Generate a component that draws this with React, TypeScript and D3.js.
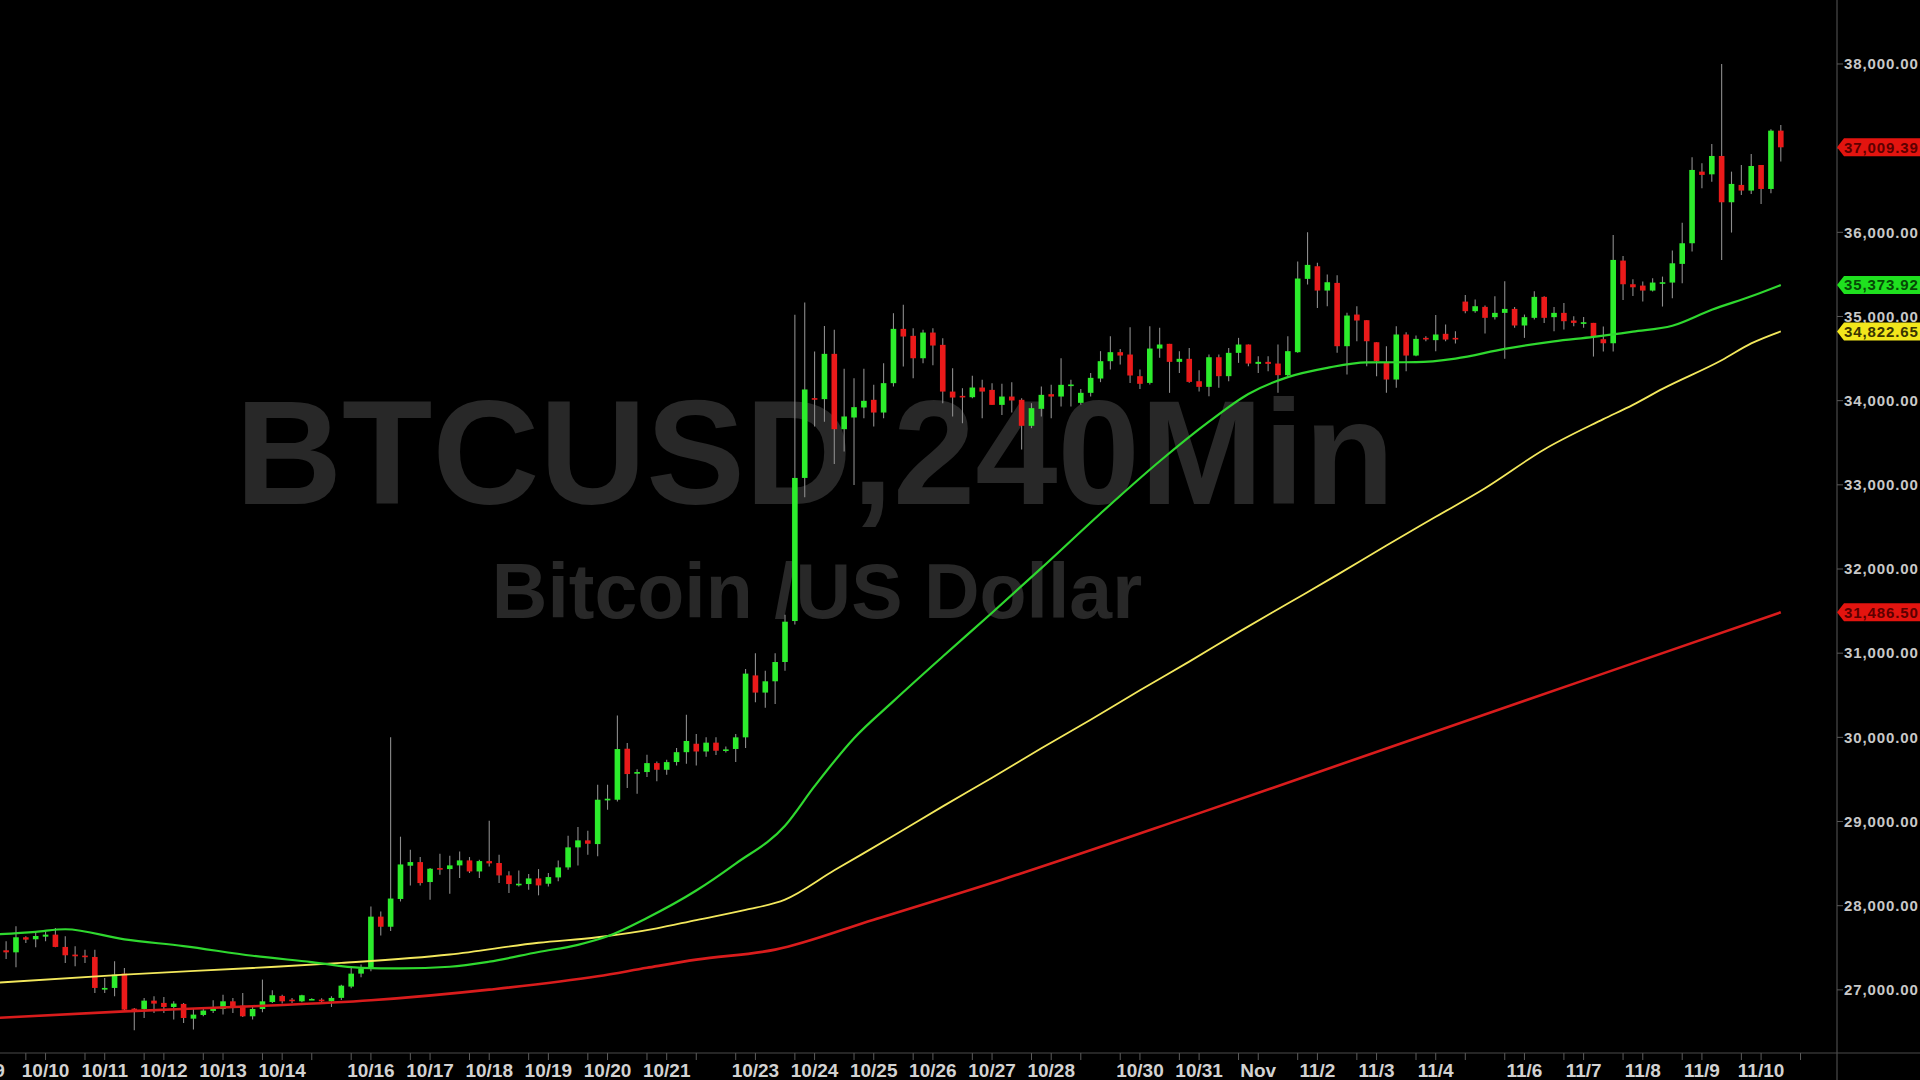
import React, { useEffect } from "react";
import * as d3 from "d3";

const W = 1920;
const H = 1080;
const PLOT_R = 1837;
const PLOT_B = 1053;

// 4h candles, index 0 = first visible bar
const openP = [
  27470, 27446, 27625, 27601, 27632, 27656, 27510, 27419, 27407, 27391,
  27003, 27023, 27193, 26777, 26773, 26872, 26845, 26797, 26833, 26658,
  26702, 26750, 26773, 26864, 26813, 26686, 26773, 26856, 26928, 26884,
  26864, 26884, 26884, 26864, 26905, 27039, 27193, 27252, 27870, 27750,
  28080, 28475, 28518, 28281, 28447, 28435, 28479, 28538, 28407, 28530,
  28507, 28360, 28249, 28257, 28324, 28261, 28336, 28455, 28693, 28776,
  28732, 29251, 29259, 29865, 29568, 29588, 29694, 29615, 29707, 29824,
  29924, 29832, 29937, 29841, 29862, 30000, 30736, 30532, 30666, 30895,
  31382, 33082, 34030, 34018, 34556, 33661, 33800, 33919, 34010, 33859,
  34208, 34853, 34770, 34504, 34809, 34663, 34108, 34057, 34041, 34156,
  34128, 33950, 34049, 34010, 33701, 33903, 34077, 34049, 34180, 33974,
  34093, 34263, 34469, 34576, 34548, 34291, 34211, 34619, 34675, 34461,
  34497, 34231, 34164, 34516, 34291, 34568, 34667, 34437, 34461, 34441,
  34303, 34576, 35447, 35597, 35308, 35399, 34647, 35023, 34956, 34694,
  34457, 34251, 34786, 34536, 34746, 34719, 34794, 34746, 35177, 35063,
  35114, 34992, 35043, 35090, 34893, 34984, 35233, 34992, 35043, 34952,
  34912, 34924, 34730, 34682, 35664, 35383, 35367, 35308, 35399, 35403,
  35625, 35870, 36721, 36689, 36907, 36357, 36563, 36496, 36800, 36515,
  37208,
];
const highP = [
  27577, 27755, 27636, 27676, 27696, 27735, 27636, 27518, 27478, 27478,
  27142, 27340, 27260, 26785, 26904, 26924, 26916, 26864, 26845, 26785,
  26785, 26876, 26943, 26904, 26963, 26805, 27122, 26995, 26943, 26904,
  26943, 26900, 26900, 26924, 27060, 27264, 27300, 27990, 27930, 30000,
  28820, 28665, 28578, 28447, 28617, 28594, 28645, 28578, 28546, 29009,
  28606, 28408, 28419, 28376, 28435, 28388, 28538, 28831, 28934, 28891,
  29437, 29437, 30260, 29932, 29620, 29793, 29714, 29734, 29874, 30270,
  30040, 30000, 30000, 29890, 30040, 30811, 30999, 30790, 30999, 31457,
  35020, 35166, 34584, 34888, 34841, 34378, 34267, 34378, 34188, 34445,
  35039, 35138, 34861, 34841, 34861, 34742, 34386, 34148, 34295, 34247,
  34208, 34200, 34220, 34030, 33970, 34168, 34188, 34504, 34247, 34140,
  34330, 34588, 34766, 34615, 34873, 34370, 34885, 34865, 34675, 34588,
  34627, 34360, 34548, 34548, 34627, 34746, 34667, 34528, 34528, 34667,
  34766, 35652, 36000, 35637, 35498, 35490, 35043, 35122, 34956, 34694,
  34647, 34885, 34813, 34774, 34766, 35019, 34904, 34825, 35256, 35201,
  35130, 35241, 35419, 35114, 35023, 35300, 35241, 35114, 35161, 35003,
  34995, 34924, 34880, 35969, 35720, 35442, 35415, 35455, 35474, 35783,
  36115, 36891, 36820, 37050, 38000, 36721, 36800, 36931, 36800, 37224,
  37275,
];
const lowP = [
  27367, 27268, 27557, 27506, 27577, 27506, 27320, 27280, 27320, 26963,
  26963, 26924, 26746, 26520, 26666, 26726, 26726, 26647, 26607, 26528,
  26686, 26726, 26706, 26726, 26678, 26647, 26734, 26845, 26837, 26845,
  26852, 26880, 26845, 26797, 26880, 27020, 27150, 27220, 27645, 27700,
  28050, 28241, 28241, 28071, 28368, 28142, 28328, 28388, 28328, 28467,
  28269, 28150, 28229, 28190, 28123, 28229, 28289, 28427, 28479, 28606,
  28586, 29140, 29239, 29397, 29330, 29528, 29477, 29556, 29666, 29686,
  29666, 29770, 29790, 29820, 29708, 29874, 30416, 30353, 30395, 30790,
  31341, 32853, 33693, 33749, 33249, 33395, 32999, 33792, 33693, 33792,
  34168, 34405, 34267, 34445, 34420, 33970, 33812, 33732, 34030, 33792,
  33950, 33831, 33860, 33420, 33673, 33812, 33792, 33930, 33930, 33950,
  34050, 34220, 34370, 34430, 34211, 34140, 34192, 34510, 34093, 34330,
  34212, 34110, 34053, 34152, 34230, 34449, 34410, 34330, 34350, 34093,
  34291, 34568, 35380, 35102, 35122, 34568, 34311, 34706, 34410, 34291,
  34093, 34152, 34350, 34528, 34706, 34588, 34706, 34679, 35039, 35043,
  34798, 34964, 34497, 34865, 34746, 34964, 34924, 34825, 34845, 34885,
  34865, 34524, 34583, 34583, 35197, 35244, 35177, 35296, 35118, 35217,
  35395, 35771, 36523, 36602, 35672, 35997, 36444, 36456, 36337, 36464,
  36840,
];
const closeP = [
  27446, 27625, 27597, 27640, 27656, 27510, 27411, 27399, 27399, 27023,
  27023, 27181, 26765, 26765, 26872, 26837, 26797, 26837, 26666, 26706,
  26754, 26777, 26864, 26805, 26686, 26773, 26864, 26936, 26864, 26872,
  26936, 26892, 26864, 26904, 27050, 27193, 27252, 27870, 27750, 28085,
  28490, 28518, 28269, 28439, 28435, 28479, 28538, 28407, 28530, 28503,
  28360, 28257, 28261, 28324, 28241, 28340, 28455, 28693, 28776, 28736,
  29259, 29271, 29861, 29564, 29588, 29694, 29615, 29706, 29824, 29957,
  29832, 29937, 29841, 29857, 30000, 30757, 30532, 30666, 30895, 31374,
  33082, 34133, 34012, 34556, 33661, 33812, 33923, 33998, 33859, 34208,
  34853, 34762, 34504, 34809, 34655, 34108, 34037, 34049, 34156, 34108,
  33950, 34049, 34002, 33701, 33911, 34069, 34049, 34188, 34192, 34093,
  34271, 34469, 34576, 34536, 34299, 34200, 34619, 34667, 34461, 34497,
  34223, 34164, 34516, 34291, 34568, 34667, 34441, 34461, 34437, 34303,
  34588, 35451, 35613, 35308, 35407, 34647, 35011, 34952, 34706, 34469,
  34251, 34786, 34536, 34734, 34734, 34786, 34726, 34734, 35063, 35122,
  34984, 35043, 35090, 34893, 34992, 35233, 34984, 35043, 34944, 34924,
  34932, 34758, 34682, 35672, 35383, 35347, 35308, 35403, 35407, 35632,
  35870, 36741, 36682, 36907, 36357, 36575, 36496, 36788, 36515, 37208,
  37010,
];

// moving averages (bar index -> price)
const fastIdx = [-1, 3, 6, 12, 18, 25, 31, 36, 40, 45, 49, 54, 58, 61, 65, 70, 74, 79, 82, 86, 90, 95, 100, 105, 111, 117, 122, 126, 130, 134, 138, 143, 147, 152, 157, 161, 165, 169, 173, 177, 180];
const fastMA = [27660, 27690, 27720, 27600, 27520, 27405, 27330, 27262, 27256, 27275, 27335, 27450, 27535, 27636, 27854, 28180, 28500, 28950, 29420, 29990, 30430, 30960, 31480, 32010, 32660, 33280, 33750, 34080, 34280, 34390, 34455, 34457, 34500, 34615, 34705, 34758, 34821, 34890, 35080, 35240, 35374];
const midIdx = [-1, 12, 25, 34, 45, 54, 60, 66, 70, 75, 79, 84, 90, 95, 100, 105, 110, 115, 120, 125, 130, 135, 140, 145, 150, 156, 162, 165, 168, 174, 177, 180];
const midMA = [27085, 27181, 27260, 27320, 27420, 27560, 27625, 27730, 27830, 27950, 28072, 28420, 28830, 29180, 29520, 29870, 30210, 30560, 30900, 31250, 31590, 31930, 32280, 32620, 32960, 33420, 33780, 33950, 34140, 34480, 34680, 34823];
const slowIdx = [-1, 12, 25, 37, 49, 60, 65, 70, 78, 88, 101, 120, 140, 160, 180];
const slowMA = [26667, 26745, 26805, 26876, 27003, 27161, 27262, 27359, 27478, 27834, 28309, 29058, 29868, 30677, 31486];

// date axis
const dayIdx = [-2, 4, 10, 16, 22, 28, 37, 43, 49, 55, 61, 67, 76, 82, 88, 94, 100, 106, 115, 121, 127, 133, 139, 145, 154, 160, 166, 172, 178];
const dayLabel = ["10/9", "10/10", "10/11", "10/12", "10/13", "10/14", "10/16", "10/17", "10/18", "10/19", "10/20", "10/21", "10/23", "10/24", "10/25", "10/26", "10/27", "10/28", "10/30", "10/31", "Nov", "11/2", "11/3", "11/4", "11/6", "11/7", "11/8", "11/9", "11/10"];
const tickIdx = [-4, -2, 2, 4, 8, 10, 14, 16, 20, 22, 26, 28, 31, 35, 37, 41, 43, 47, 49, 53, 55, 59, 61, 65, 67, 70, 74, 76, 80, 82, 86, 88, 92, 94, 98, 100, 104, 106, 109, 113, 115, 119, 121, 125, 127, 131, 133, 137, 139, 143, 145, 148, 152, 154, 158, 160, 164, 166, 170, 172, 176, 178, 182];

const priceTicks = [27000, 28000, 29000, 30000, 31000, 32000, 33000, 34000, 35000, 36000, 37000, 38000];

const tagValues = [37009.39, 35373.92, 34822.65, 31486.5];
const tagFill = ["#e3140f", "#1fe01f", "#f2e61c", "#e3140f"];
const tagText = ["#5c0000", "#064a06", "#3a3400", "#5c0000"];

const GREEN = "#2cec2c";
const RED = "#ea1a1a";

const fmt = d3.format(",.2f");

const App: React.FC = () => {
  useEffect(() => {
    document.body.style.margin = "0";
    document.body.style.background = "#000";
  }, []);

  const x = d3.scaleLinear().domain([-0.62, 185.7]).range([0, PLOT_R]);
  const y = d3.scaleLinear().domain([26250, 38760]).range([PLOT_B, 0]);
  const bw = 5.6;

  const maPath = (idx: number[], vals: number[]) =>
    d3
      .line<number>()
      .x((_, k) => x(idx[k]))
      .y((d) => y(d))
      .curve(d3.curveMonotoneX)(vals) || "";

  const axisFont = "'Liberation Sans', Arial, sans-serif";

  return (
    <svg width={W} height={H} style={{ display: "block", background: "#000" }}>
      <rect x={0} y={0} width={W} height={H} fill="#000" />
      <defs>
        <clipPath id="plot">
          <rect x={0} y={0} width={PLOT_R} height={PLOT_B} />
        </clipPath>
      </defs>

      {/* watermark */}
      <text
        x={815}
        y={504}
        textAnchor="middle"
        fontFamily={axisFont}
        fontWeight="bold"
        fontSize={148}
        fill="#282828"
      >
        BTCUSD,240Min
      </text>
      <text
        x={817}
        y={618}
        textAnchor="middle"
        fontFamily={axisFont}
        fontWeight="bold"
        fontSize={77}
        fill="#282828"
      >
        Bitcoin /US Dollar
      </text>

      <g clipPath="url(#plot)">
        {openP.map((o, i) => {
          const c = closeP[i];
          const up = c >= o;
          const top = y(Math.max(o, c));
          const bot = y(Math.min(o, c));
          const cx = x(i);
          return (
            <g key={i}>
              <line x1={cx} x2={cx} y1={y(highP[i])} y2={y(lowP[i])} stroke="#8c8c8c" strokeWidth={1.1} />
              <rect
                x={cx - bw / 2}
                y={top}
                width={bw}
                height={Math.max(1.6, bot - top)}
                fill={up ? GREEN : RED}
              />
            </g>
          );
        })}

        <path d={maPath(slowIdx, slowMA)} fill="none" stroke="#d91c1c" strokeWidth={2.6} />
        <path d={maPath(midIdx, midMA)} fill="none" stroke="#f3e85c" strokeWidth={1.8} />
        <path d={maPath(fastIdx, fastMA)} fill="none" stroke="#2fd82f" strokeWidth={2.2} />
      </g>

      {/* axes frame */}
      <line x1={PLOT_R} x2={PLOT_R} y1={0} y2={H} stroke="#4a4a4a" strokeWidth={1.2} />
      <line x1={0} x2={W} y1={PLOT_B} y2={PLOT_B} stroke="#4a4a4a" strokeWidth={1.2} />

      {/* date ticks and labels */}
      {tickIdx.map((t) => (
        <line key={"t" + t} x1={x(t)} x2={x(t)} y1={PLOT_B} y2={PLOT_B + 7} stroke="#5a5a5a" strokeWidth={1} />
      ))}
      {dayIdx.map((d, k) => (
        <text
          key={"d" + d}
          x={x(d)}
          y={1077}
          textAnchor="middle"
          fontFamily={"'Liberation Sans Narrow', " + axisFont}
          fontWeight="bold"
          fontSize={19}
          fill="#d2d2d2"
        >
          {dayLabel[k]}
        </text>
      ))}

      {/* price axis */}
      {priceTicks.map((p) => (
        <g key={"p" + p}>
          <line x1={PLOT_R} x2={PLOT_R + 6} y1={y(p)} y2={y(p)} stroke="#5a5a5a" strokeWidth={1} />
          <text
            x={1844}
            y={y(p) + 5.3}
            fontFamily={axisFont}
            fontWeight="bold"
            fontSize={15}
            letterSpacing={0.9}
            fill="#c8c8c8"
          >
            {fmt(p)}
          </text>
        </g>
      ))}

      {/* last value tags */}
      {tagValues.map((v, k) => {
        const ty = y(v);
        return (
          <g key={"tag" + k}>
            <path
              d={`M${PLOT_R},${ty} L${PLOT_R + 7},${ty - 9} L${W},${ty - 9} L${W},${ty + 9} L${PLOT_R + 7},${ty + 9} Z`}
              fill={tagFill[k]}
            />
            <text
              x={1844}
              y={ty + 5.3}
              fontFamily={axisFont}
              fontWeight="bold"
              fontSize={15}
              letterSpacing={0.9}
              fill={tagText[k]}
            >
              {fmt(v)}
            </text>
          </g>
        );
      })}
    </svg>
  );
};

export default App;
